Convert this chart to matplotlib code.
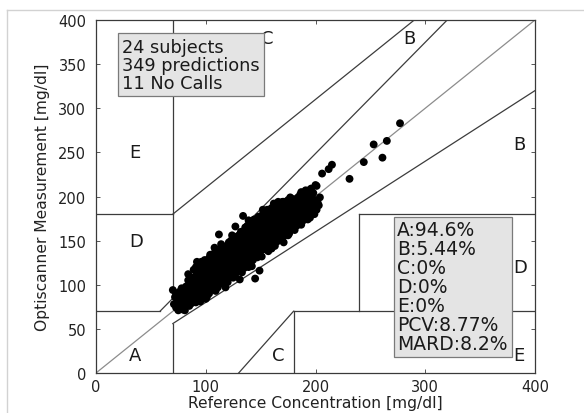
import matplotlib
matplotlib.use("Agg")
import matplotlib.pyplot as plt
from matplotlib.lines import Line2D

plt.rcParams['font.family'] = ['DejaVu Sans']

# Paired readings: reference glucose vs. Optiscanner reading (mg/dl)
reference = [
    71, 72, 70,
    73, 74, 73,
    75, 76, 75,
    77, 78, 76,
    79, 80, 79, 78,
    81, 82, 80, 81,
    84, 83, 82, 84,
    85, 86, 84, 85, 86,
    87, 88, 87, 86,
    90, 88, 89, 90, 89,
    91, 92, 91, 90, 92, 91,
    93, 94, 92, 93, 94,
    95, 96, 95, 94, 96, 95, 96,
    98, 97, 96, 98, 97,
    99, 100, 98, 99, 100, 99,
    101, 102, 101, 100, 102, 101,
    103, 104, 103, 102, 104, 103,
    106, 104, 105, 106, 105,
    107, 108, 107, 106, 108, 107,
    109, 110, 108, 109, 110, 109,
    111, 112, 111, 110, 112, 111,
    114, 112, 113, 114, 113,
    115, 116, 115, 114, 116, 115,
    117, 118, 117, 116, 118, 117,
    119, 120, 118, 119, 120, 119,
    122, 121, 120, 122, 121,
    123, 124, 123, 122, 124, 123,
    125, 126, 125, 124, 126, 125,
    127, 128, 126, 127, 128, 127,
    130, 129, 128, 130, 129,
    131, 132, 131, 130, 132, 131, 132,
    133, 134, 133, 132, 134, 133,
    135, 136, 134, 135, 136, 135, 136,
    138, 137, 136, 138, 137, 138,
    139, 140, 139, 138, 140, 139, 140,
    141, 142, 141, 140, 142, 141,
    143, 144, 142, 143, 144, 143, 144,
    146, 145, 144, 146, 145, 146,
    147, 148, 147, 146, 148, 147, 148,
    149, 150, 149, 148, 150, 149,
    151, 152, 151, 150, 152, 151, 152,
    154, 152, 153, 154, 153, 154,
    155, 156, 155, 154, 156, 155, 156,
    157, 158, 157, 156, 158, 157,
    159, 160, 159, 158, 160, 159, 160,
    162, 161, 160, 162, 161,
    163, 164, 163, 162, 164, 163, 164,
    165, 166, 164, 165, 166,
    167, 168, 167, 166, 168, 167,
    170, 169, 168, 170, 169, 170,
    171, 172, 171, 170, 172, 171,
    173, 174, 173, 172, 174,
    175, 176, 175, 174, 176, 175,
    178, 177, 176, 178, 177,
    179, 180, 179, 178, 180,
    181, 182, 181, 180, 182,
    183, 184, 183, 182, 184,
    186, 185, 184, 186,
    187, 188, 187, 186, 188, 187,
    189, 190, 189, 188,
    191, 192, 191, 190,
    193, 194, 193, 192, 194,
    195, 196, 195, 194,
    197, 198, 197, 196,
    199, 200, 199, 198,
    201, 202, 201,
    203, 204,
    92, 108, 124, 139, 152, 166, 100, 120, 142, 160, 176, 195, 86, 114, 147,
    84, 112, 104, 127, 134, 162, 171, 145, 149, 131, 118, 163,
    180, 189, 191, 200, 206, 212, 215, 231, 244, 261, 253, 265, 277,
]
measured = [
    78, 86, 94,
    74, 82, 90,
    71, 79, 87,
    75, 84, 92,
    72, 80, 88, 96,
    71, 77, 85, 93,
    82, 90, 98, 105,
    76, 84, 92, 100, 108,
    79, 87, 95, 103,
    85, 93, 101, 109, 117,
    80, 88, 96, 104, 112, 120,
    83, 91, 99, 107, 115,
    81, 89, 97, 105, 113, 121, 126,
    93, 101, 109, 117, 124,
    88, 96, 104, 112, 120, 128,
    86, 94, 102, 110, 118, 126,
    90, 98, 106, 114, 122, 130,
    100, 108, 116, 124, 133,
    95, 103, 111, 119, 127, 135,
    93, 101, 109, 117, 125, 133,
    97, 105, 113, 121, 129, 137,
    108, 116, 124, 132, 140,
    102, 110, 118, 126, 134, 142,
    100, 108, 116, 124, 132, 140,
    105, 113, 121, 129, 137, 144,
    116, 124, 132, 140, 148,
    110, 118, 126, 134, 142, 150,
    108, 116, 124, 132, 140, 148,
    112, 120, 128, 136, 144, 152,
    123, 131, 139, 147, 155,
    117, 125, 133, 141, 149, 157, 160,
    114, 122, 130, 138, 146, 154,
    119, 127, 135, 143, 151, 159, 165,
    130, 138, 146, 154, 162, 167,
    120, 128, 136, 144, 152, 160, 168,
    125, 133, 141, 149, 157, 165,
    128, 136, 144, 152, 160, 168, 174,
    134, 142, 150, 158, 166, 173,
    131, 139, 147, 155, 163, 171, 177,
    134, 142, 150, 158, 166, 174,
    132, 140, 148, 156, 164, 172, 180,
    145, 153, 161, 169, 177, 182,
    140, 148, 156, 164, 172, 180, 185,
    138, 146, 154, 162, 170, 178,
    143, 151, 159, 167, 175, 183, 187,
    154, 162, 170, 178, 186,
    144, 152, 160, 168, 176, 184, 189,
    149, 157, 165, 173, 181,
    152, 160, 168, 176, 184, 192,
    158, 166, 174, 182, 190, 194,
    155, 163, 171, 179, 187, 194,
    158, 166, 174, 182, 190,
    156, 164, 172, 180, 188, 196,
    169, 177, 185, 193, 199,
    164, 172, 180, 188, 196,
    162, 170, 178, 186, 194,
    167, 175, 183, 191, 199,
    178, 186, 194, 202,
    168, 176, 184, 192, 200, 205,
    173, 181, 189, 197,
    176, 184, 192, 200,
    174, 182, 190, 198, 207,
    179, 187, 195, 203,
    182, 190, 198, 209,
    180, 188, 196, 204,
    185, 193, 212,
    190, 199,
    126, 142, 156, 173, 185, 194, 84, 103, 121, 141, 158, 176, 107, 146, 160,
    112, 157, 134, 166, 178, 192, 148, 107, 116, 106, 97, 190,
    197, 201, 207, 213, 226, 231, 236, 220, 239, 244, 259, 263, 283,
]

# Clarke error grid zone boundaries: (x0, x1, y0, y1)
zone_lines = [
    (0, 175 / 3, 70, 70),
    (175 / 3, 320, 70, 400),
    (70, 70, 84, 400),
    (0, 70, 180, 180),
    (70, 290, 180, 400),
    (70, 70, 0, 56),
    (70, 400, 56, 320),
    (180, 180, 0, 70),
    (180, 400, 70, 70),
    (240, 240, 70, 180),
    (240, 400, 180, 180),
    (130, 180, 0, 70),
]
zone_labels = ['A', 'D', 'E', 'C', 'B', 'B', 'D', 'C', 'E']
zone_label_x = [30, 30, 30, 150, 280, 380, 380, 160, 380]
zone_label_y = [20, 150, 250, 380, 380, 260, 120, 20, 20]

summary_lines = ['24 subjects', '349 predictions', '11 No Calls']
zone_share = ['A:94.6%', 'B:5.44%', 'C:0%', 'D:0%', 'E:0%', 'PCV:8.77%', 'MARD:8.2%']

fig = plt.figure(figsize=(5.84, 4.14), dpi=100)
ax = fig.add_axes([96 / 584, 1 - 374 / 414, 439 / 584, 353 / 414])

# faint frame around the figure
fx, fy = 7 / 584, 1 - 11 / 414
fig.add_artist(Line2D([fx, 1], [fy, fy], transform=fig.transFigure, color='#d2d2d2', lw=1.0))
fig.add_artist(Line2D([fx, fx], [0, fy], transform=fig.transFigure, color='#d2d2d2', lw=1.0))

ax.plot([0, 400], [0, 400], color='#8c8c8c', lw=0.9, zorder=1)
for x0, x1, y0, y1 in zone_lines:
    ax.plot([x0, x1], [y0, y1], color='#3c3c3c', lw=0.9, zorder=1)

ax.scatter(reference, measured, s=32, c='black', edgecolors='none', zorder=3)

for lab, lx, ly in zip(zone_labels, zone_label_x, zone_label_y):
    ax.text(lx, ly, lab, fontsize=13, ha='left', va='center', color='#1a1a1a', zorder=4)

ax.text(24, 380, '\n'.join(summary_lines), fontsize=12.8, ha='left', va='top',
        linespacing=1.0, color='#1a1a1a', zorder=5,
        bbox=dict(boxstyle='square,pad=0.25', fc='#e4e4e4', ec='#7a7a7a', lw=0.9))
ax.text(274.5, 173, '\n'.join(zone_share), fontsize=13.5, ha='left', va='top',
        linespacing=1.0, color='#1a1a1a', zorder=5,
        bbox=dict(boxstyle='square,pad=0.2', fc='#e4e4e4', ec='#7a7a7a', lw=0.9))

ax.set_xlim(0, 400)
ax.set_ylim(0, 400)
ax.set_xticks([0, 100, 200, 300, 400])
ax.set_yticks(list(range(0, 401, 50)))
ax.tick_params(direction='in', length=3, width=0.7, top=True, right=True,
               labelsize=10.5, labelcolor='#222222', color='#555555')
ax.tick_params(axis='y', pad=7)
ax.tick_params(axis='x', pad=4)
for sp in ax.spines.values():
    sp.set_color('#3a3a3a')
    sp.set_linewidth(0.9)

ax.set_xlabel('Reference Concentration [mg/dl]', fontsize=11.2, color='#222222', labelpad=1)
ax.set_ylabel('Optiscanner Measurement [mg/dl]', fontsize=11.2, color='#222222', labelpad=6)

fig.savefig('out.png', dpi=100)
